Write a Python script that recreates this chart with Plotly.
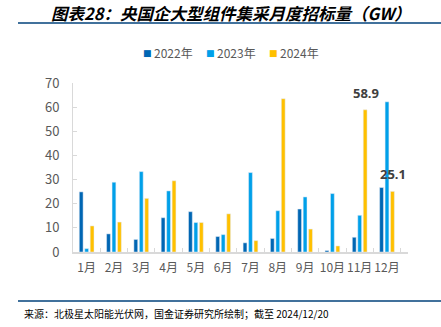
import plotly.graph_objects as go

months = ["1月", "2月", "3月", "4月", "5月", "6月", "7月", "8月", "9月", "10月", "11月", "12月"]
y2022 = [24.9, 7.5, 5.2, 14.2, 16.7, 6.4, 3.8, 5.6, 17.8, 0.6, 6.1, 26.7]
y2023 = [1.4, 28.9, 33.3, 25.3, 12.2, 7.2, 32.9, 17.1, 22.8, 24.2, 15.2, 62.2]
y2024 = [10.8, 12.4, 22.2, 29.5, 12.2, 15.8, 4.7, 63.5, 9.5, 2.5, 58.9, 25.1]
labels2024 = ["", "", "", "", "", "", "", "", "", "", "58.9", "25.1"]
series_names = ["2022年", "2023年", "2024年"]

c22, c23, c24 = "#0066B3", "#00A0E9", "#FFC000"
colors = [c22, c23, c24]
font = "Noto Sans CJK SC"

fig = go.Figure()
for name, vals, col in zip(series_names, [y2022, y2023, y2024], colors):
    fig.add_bar(x=months, y=vals, name=name, marker_color=col)

for m, v, lab in zip(months, y2024, labels2024):
    if lab:
        fig.add_annotation(x=m, y=v, text="<b>" + lab + "</b>", showarrow=False,
                           xshift=6, yshift=17, yanchor="middle",
                           font=dict(size=13, color="#404040", family="Noto Sans, " + font))

fig.update_layout(
    width=441, height=327,
    margin=dict(l=73, r=33, t=83, b=75),
    paper_bgcolor="white", plot_bgcolor="white",
    barmode="group", bargap=0.4, bargroupgap=0.3,
    font=dict(family=font, size=12, color="#595959"),
    showlegend=False,
    xaxis=dict(showline=True, linecolor="#D9D9D9", linewidth=1.5, ticks="inside",
               tickson="boundaries", ticklen=4, tickcolor="#D9D9D9", tickangle=0,
               ticklabelstandoff=4,
               tickfont=dict(size=12, color="#595959")),
    yaxis=dict(range=[0, 70], dtick=10, showgrid=False, showline=True,
               linecolor="#D9D9D9", linewidth=1, ticks="inside", ticklen=4,
               tickcolor="#D9D9D9", zeroline=False, ticklabelstandoff=10,
               tickfont=dict(size=13, color="#595959")),
)

# legend (manual, to match compact spacing)
leg_marker_x = [147, 210, 273]
for px, name, col in zip(leg_marker_x, series_names, colors):
    fig.add_annotation(text="■", xref="paper", yref="paper",
                       x=(px - 73) / 335, y=(251.7 - 53) / 168.7,
                       showarrow=False, xanchor="center", yanchor="middle",
                       font=dict(size=9, color=col, family="DejaVu Sans"))
    fig.add_annotation(text=name, xref="paper", yref="paper",
                       x=(px + 5 - 73) / 335, y=(251.7 - 53) / 168.7,
                       showarrow=False, xanchor="left", yanchor="middle",
                       font=dict(size=12, color="#595959", family=font))

fig.add_annotation(text="<b><i>图表28：央国企大型组件集采月度招标量（GW）</i></b>",
                   xref="paper", yref="paper", x=(231 - 73) / 335, y=1 + (83 - 13) / 168.7,
                   showarrow=False, xanchor="center", yanchor="middle",
                   font=dict(size=16.5, color="#000000", family=font))
fig.add_annotation(text="来源：北极星太阳能光伏网，国金证券研究所绘制；截至 2024/12/20",
                   xref="paper", yref="paper", x=(22 - 73) / 335, y=-(313 - 251.7) / 168.7,
                   showarrow=False, xanchor="left", yanchor="middle",
                   font=dict(size=10, color="#000000", family=font))
for yy in (23, 300.5):
    fig.add_shape(type="line", xref="paper", yref="paper",
                  x0=(18 - 73) / 335, x1=(441 - 73) / 335,
                  y0=(251.7 - yy) / 168.7, y1=(251.7 - yy) / 168.7,
                  line=dict(color="#41719C", width=2))

fig.write_html("out.html")
